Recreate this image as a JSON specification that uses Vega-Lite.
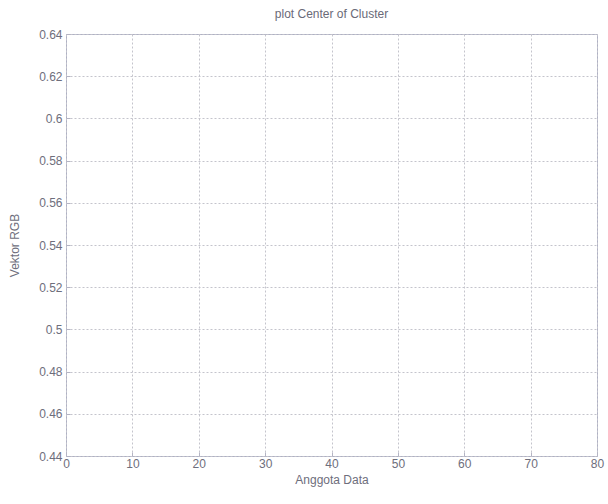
{
  "$schema": "https://vega.github.io/schema/vega-lite/v6.json",
  "autosize": {"type": "none"},
  "padding": {"left": 66, "top": 34, "right": 11, "bottom": 48},
  "width": 531,
  "height": 422,
  "background": "#ffffff",
  "title": {"text": "plot Center of Cluster", "fontSize": 12, "font": "Liberation Sans", "fontWeight": "normal", "color": "#6a6a78", "offset": 7},
  "data": {"values": []},
  "mark": {"type": "point", "opacity": 0},
  "encoding": {
    "x": {"field": "anggota", "type": "quantitative",
      "scale": {"domain": [0, 80], "nice": false, "zero": false},
      "axis": {"title": "Anggota Data", "values": [0,10,20,30,40,50,60,70,80], "grid": true, "gridDash": [2,2], "gridColor": "#c4c4cc", "domain": false, "tickSize": -4, "tickColor": "#b4b4c4", "labelPadding": 6, "labelFontSize": 12, "labelFont": "Liberation Sans", "labelColor": "#6e6e7c", "titleFontSize": 12, "titleFont": "Liberation Sans", "titleFontWeight": "normal", "titleColor": "#6e6e7c", "titlePadding": 5, "labelFlush": false}},
    "y": {"field": "vektor", "type": "quantitative",
      "scale": {"domain": [0.44, 0.64], "nice": false, "zero": false},
      "axis": {"title": "Vektor RGB", "format": ".2~f", "values": [0.44,0.46,0.48,0.5,0.52,0.54,0.56,0.58,0.6,0.62,0.64], "grid": true, "gridDash": [2,2], "gridColor": "#c4c4cc", "domain": false, "tickSize": -4, "tickColor": "#b4b4c4", "labelPadding": 8, "labelFontSize": 12, "labelFont": "Liberation Sans", "labelColor": "#6e6e7c", "titleFontSize": 12, "titleFont": "Liberation Sans", "titleFontWeight": "normal", "titleColor": "#6e6e7c", "titlePadding": 17, "labelFlush": false}}
  },
  "config": {"view": {"stroke": "#aeb0c4", "strokeWidth": 1}}
}
